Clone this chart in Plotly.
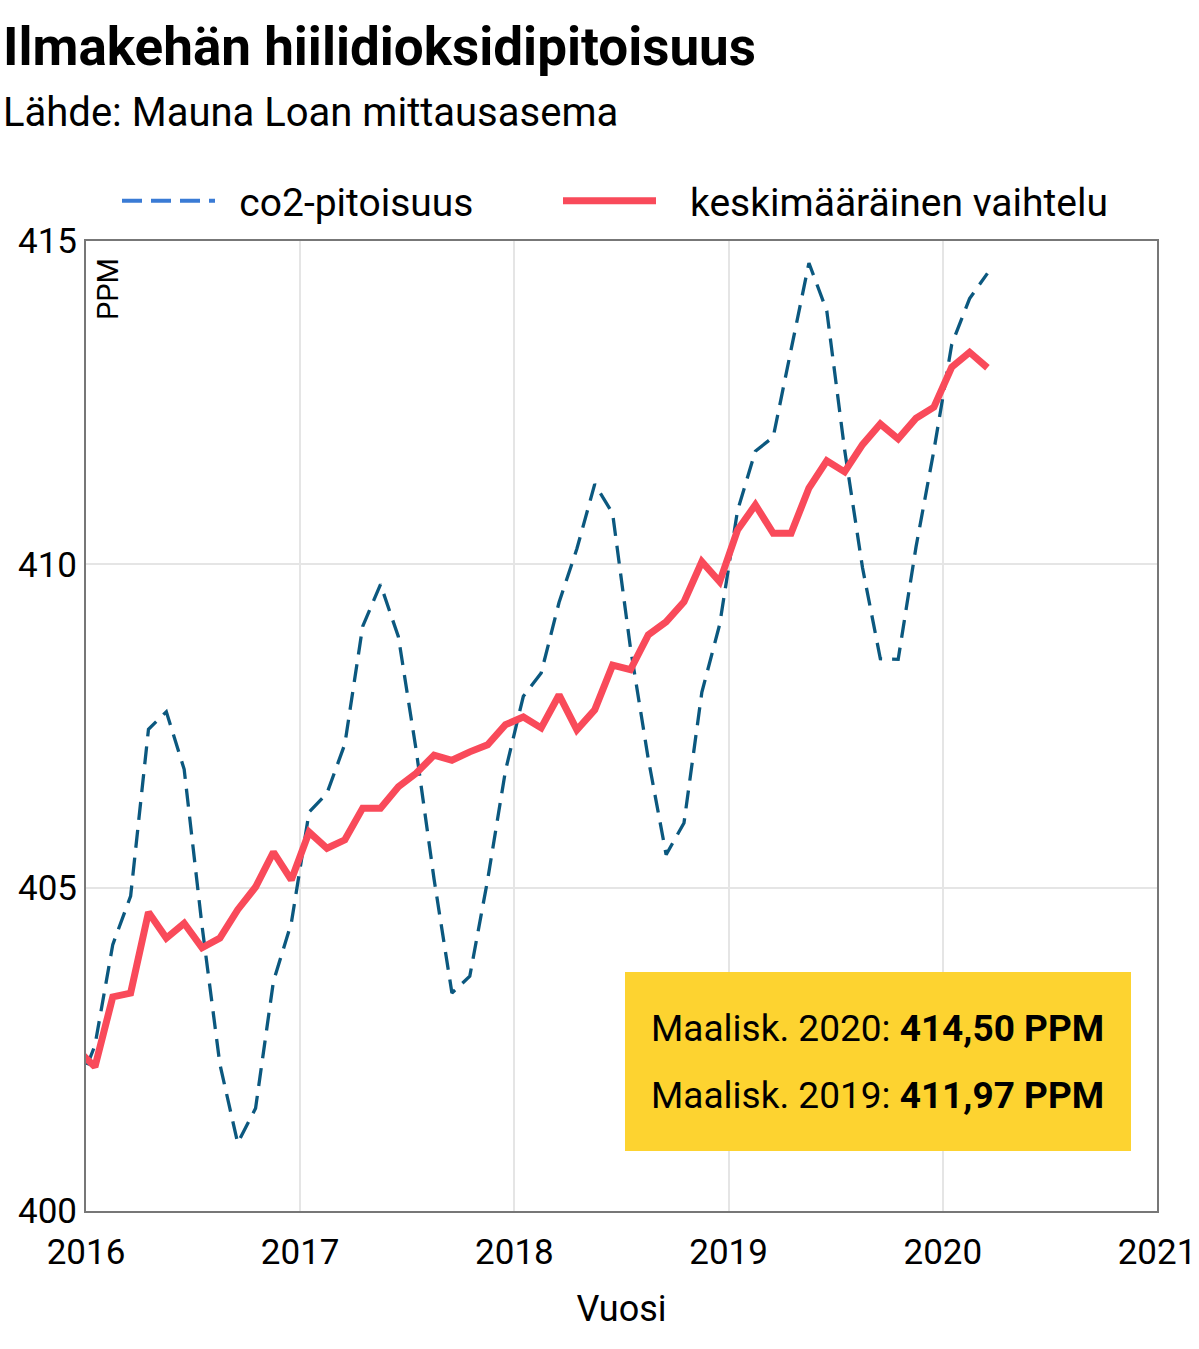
import plotly.graph_objects as go

# ---- data ----
months = [
    "2015-12",
    "2016-01", "2016-02", "2016-03", "2016-04", "2016-05", "2016-06",
    "2016-07", "2016-08", "2016-09", "2016-10", "2016-11", "2016-12",
    "2017-01", "2017-02", "2017-03", "2017-04", "2017-05", "2017-06",
    "2017-07", "2017-08", "2017-09", "2017-10", "2017-11", "2017-12",
    "2018-01", "2018-02", "2018-03", "2018-04", "2018-05", "2018-06",
    "2018-07", "2018-08", "2018-09", "2018-10", "2018-11", "2018-12",
    "2019-01", "2019-02", "2019-03", "2019-04", "2019-05", "2019-06",
    "2019-07", "2019-08", "2019-09", "2019-10", "2019-11", "2019-12",
    "2020-01", "2020-02", "2020-03",
]

co2_ppm = [
    401.85,
    402.56, 404.12, 404.87, 407.45, 407.72, 406.83, 404.41, 402.27, 401.05, 401.59, 403.55, 404.45,
    406.17, 406.46, 407.22, 409.04, 409.69, 408.88, 407.12, 405.13, 403.37, 403.63, 405.12, 406.81,
    407.96, 408.32, 409.41, 410.24, 411.24, 410.79, 408.71, 406.99, 405.51, 406.00, 408.02, 409.07,
    410.83, 411.75, 411.97, 413.32, 414.66, 413.92, 411.77, 409.95, 408.54, 408.53, 410.27, 411.76,
    413.40, 414.11, 414.50,
]

trend_ppm = [
    402.50,
    402.23, 403.31, 403.37, 404.62, 404.22, 404.45, 404.07, 404.22, 404.66, 405.01, 405.55, 405.12,
    405.86, 405.61, 405.74, 406.23, 406.23, 406.56, 406.77, 407.05, 406.97, 407.10, 407.21, 407.52,
    407.64, 407.47, 407.98, 407.44, 407.75, 408.44, 408.37, 408.91, 409.11, 409.42, 410.04, 409.73,
    410.53, 410.92, 410.48, 410.48, 411.18, 411.60, 411.43, 411.85, 412.17, 411.94, 412.26, 412.43,
    413.05, 413.28, 413.04,
]

year_ticks = [2016, 2017, 2018, 2019, 2020, 2021]
ppm_ticks = [400, 405, 410, 415]

series_names = ["co2-pitoisuus", "keskimääräinen vaihtelu"]
title_text = "Ilmakehän hiilidioksidipitoisuus"
subtitle_text = "Lähde: Mauna Loan mittausasema"
info_lines = [
    "Maalisk. 2020: <b>414,50 PPM</b>",
    "Maalisk. 2019: <b>411,97 PPM</b>",
]


def decimal_year(ym):
    y, m = ym.split("-")
    return int(y) + (int(m) - 0.5) / 12.0


x_dec = [decimal_year(m) for m in months]

FONT = "Roboto"
DARK = "#0b587f"
LEGEND_BLUE = "#3a7bd5"
RED = "#f94a5a"
NB = "\u00a0"

fig = go.Figure()

# visible traces
fig.add_trace(go.Scatter(
    x=x_dec, y=co2_ppm, mode="lines", name=series_names[0],
    line=dict(color=DARK, width=3.3, dash="18px,10px"),
    showlegend=False, hoverinfo="x+y",
))
fig.add_trace(go.Scatter(
    x=x_dec, y=trend_ppm, mode="lines", name=series_names[1],
    line=dict(color=RED, width=7),
    showlegend=False, hoverinfo="x+y",
))
# legend entries
fig.add_trace(go.Scatter(
    x=[None], y=[None], mode="lines", name=NB * 2 + series_names[0],
    line=dict(color=LEGEND_BLUE, width=4, dash="20px,9px"),
    legend="legend",
))
fig.add_trace(go.Scatter(
    x=[None], y=[None], mode="lines", name=NB * 3 + series_names[1],
    line=dict(color=RED, width=7),
    legend="legend2",
))

W, H = 1199, 1349
L, R, T, B = 86, 42, 241, 138
PW, PH = W - L - R, H - T - B


def px_x(px):
    return (px - L) / PW


def px_y(py):
    return (H - B - py) / PH


annotations = [
    dict(text="<b>" + title_text + "</b>", x=px_x(1), y=px_y(47),
         xref="paper", yref="paper", xanchor="left", yanchor="middle",
         showarrow=False, font=dict(family=FONT, size=53, color="#000")),
    dict(text=subtitle_text, x=px_x(1), y=px_y(112),
         xref="paper", yref="paper", xanchor="left", yanchor="middle",
         showarrow=False, font=dict(family=FONT, size=40, color="#000")),
    dict(text="PPM", x=px_x(108), y=px_y(256),
         xref="paper", yref="paper", xanchor="center", yanchor="top",
         textangle=-90, showarrow=False,
         font=dict(family=FONT, size=29, color="#000")),
    dict(text=info_lines[0], x=px_x(649), y=px_y(1028),
         xref="paper", yref="paper", xanchor="left", yanchor="middle",
         showarrow=False, font=dict(family=FONT, size=37, color="#000")),
    dict(text=info_lines[1], x=px_x(649), y=px_y(1095),
         xref="paper", yref="paper", xanchor="left", yanchor="middle",
         showarrow=False, font=dict(family=FONT, size=37, color="#000")),
]

shapes = [
    dict(type="rect", xref="paper", yref="paper",
         x0=px_x(625), x1=px_x(1131), y0=px_y(1151), y1=px_y(972),
         fillcolor="#fdd330", line=dict(width=0), layer="above"),
]

legend_common = dict(
    orientation="h", xanchor="left", yanchor="middle",
    font=dict(family=FONT, size=39, color="#000"),
    itemwidth=93, bgcolor="rgba(0,0,0,0)",
)

fig.update_layout(
    width=W, height=H,
    margin=dict(l=L, r=R, t=T, b=B, pad=0, autoexpand=False),
    paper_bgcolor="white", plot_bgcolor="white",
    font=dict(family=FONT, color="#111"),
    showlegend=True,
    legend=dict(x=px_x(117), y=px_y(201), **legend_common),
    legend2=dict(x=px_x(558), y=px_y(201), **legend_common),
    xaxis=dict(
        range=[year_ticks[0], year_ticks[-1]],
        tickmode="array", tickvals=year_ticks,
        ticktext=[str(y) for y in year_ticks],
        ticks="outside", ticklen=9, tickcolor="rgba(0,0,0,0)",
        tickfont=dict(family=FONT, size=35, color="#000"),
        showgrid=True, gridcolor="#e5e5e5", gridwidth=1.5,
        showline=True, linecolor="#777", linewidth=2, mirror=True,
        zeroline=False,
        title=dict(text="Vuosi", font=dict(family=FONT, size=36, color="#000"),
                   standoff=24),
    ),
    yaxis=dict(
        range=[ppm_ticks[0], ppm_ticks[-1]],
        tickmode="array", tickvals=ppm_ticks,
        ticktext=[str(v) for v in ppm_ticks],
        ticks="",
        tickfont=dict(family=FONT, size=35, color="#000"),
        showgrid=True, gridcolor="#e5e5e5", gridwidth=1.5,
        showline=True, linecolor="#777", linewidth=2, mirror=True,
        zeroline=False,
    ),
    annotations=annotations,
    shapes=shapes,
)

fig.write_html(
    "out.html",
    config={"displayModeBar": False},
    post_script="document.body.style.margin='0';document.body.style.overflow='hidden';",
)
